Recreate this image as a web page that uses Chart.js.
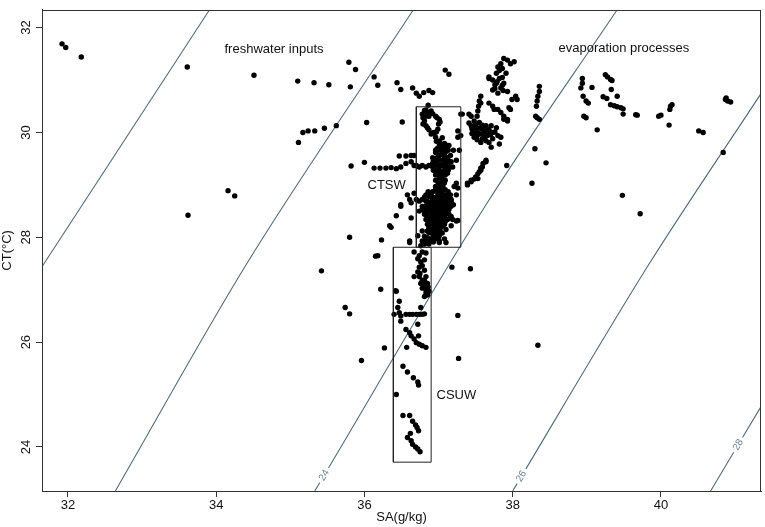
<!DOCTYPE html>
<html>
<head>
<meta charset="utf-8">
<script src="https://cdn.jsdelivr.net/npm/chart.js@4.4.0/dist/chart.umd.min.js"></script>
<style>
  html, body { margin: 0; padding: 0; background: #fff; }
</style>
</head>
<body>
<canvas id="tsChart" width="765" height="527"></canvas>
<script>
// axis ticks
const xTicks = [32, 34, 36, 38, 40];
const yTicks = [24, 26, 28, 30, 32];

const isoLevels = [20, 22, 24, 26, 28];
const isoSA = [
    [31.65, 33.91],
    [32.64, 34.41, 36.66],
    [35.33, 37.64, 39.41],
    [38.00, 39.84, 41.35],
    [40.67, 41.35]
];
const isoCT = [
    [27.44, 32.34],
    [23.16, 27.49, 32.34],
    [23.16, 28.62, 32.34],
    [23.16, 27.49, 30.74],
    [23.16, 24.77]
];
const isoLabels = ['24', '26', '28'];
const isoLabelCT = [23.46, 23.44, 24.04];

// water mass boxes
const boxNames = ['CTSW', 'CSUW'];
const boxSA = [[36.70, 37.30], [36.39, 36.90]];
const boxCT = [[27.81, 30.49], [23.71, 27.81]];

// text notes
const noteText = ['freshwater inputs', 'evaporation processes', 'CTSW', 'CSUW'];
const noteSA = [34.78, 39.50, 36.30, 37.24];
const noteCT = [31.59, 31.61, 28.99, 24.98];

// observations [SA, CT]
const scatteredPts = [
    [31.92,31.69],[31.97,31.62],[32.18,31.44],[33.61,31.25],[34.51,31.09],[34.16,28.89],[34.25,28.79],[33.62,28.42],
    [35.10,30.98],[35.32,30.95],[35.52,30.91],[35.79,31.34],[35.88,31.20],[35.81,30.87],[36.13,31.06],[36.18,30.90],[36.44,30.95],
    [36.03,30.19],[35.17,30.00],[35.24,30.03],[35.33,30.03],[35.46,30.08],[35.62,30.13],[35.11,29.81],
    [35.82,29.36],[36.00,29.43],[36.13,29.32],[36.21,29.32],[36.29,29.32],[36.36,29.33],[36.43,29.31],[36.49,29.34],[36.56,29.41],[36.63,29.44],[36.70,29.37],
    [36.47,29.55],[36.56,29.55],[36.63,29.56],[36.43,28.41],
    [36.49,30.82],[36.65,30.85],[36.70,30.75],[36.74,30.69],[36.80,30.76],[36.87,30.80],[36.92,30.76],[37.09,31.19],[37.14,31.11],[36.51,30.20],
    [36.58,28.81],[36.49,28.62],[36.34,28.22],[36.36,28.19],[35.80,28.00],[36.61,27.93],[36.61,28.72],[36.23,27.95],[36.15,27.64],[36.18,27.65],
    [35.42,27.36],[36.22,27.01],[36.42,26.98],[35.74,26.66],[35.80,26.54],[35.96,25.65],[36.27,25.89],[38.34,25.94]
];
const ctswPts = [
    [36.81,30.42],[36.85,30.38],[36.92,30.36],[36.96,30.31],[37.01,30.25],[37.00,30.16],[36.99,30.06],[36.94,30.00],[36.90,29.97],
    [36.83,30.31],[36.81,30.22],[36.83,30.13],[36.87,30.05],[36.78,30.35],[36.87,30.31],[36.86,30.52],
    [36.83,30.43],[36.90,30.41],[36.98,30.28],[37.02,30.20],[36.79,30.28],[36.79,30.16],[36.85,30.09],[36.92,29.99],[36.97,30.01],
    [36.96,29.91],[37.01,29.84],[37.03,29.78],[37.08,29.79],[37.12,29.75],[37.01,29.72],[36.99,29.66],[37.03,29.66],[37.05,29.59],
    [37.01,29.56],[36.96,29.50],[37.03,29.47],[37.08,29.50],[36.92,29.41],[36.87,29.37],[36.99,29.37],[37.05,29.37],[37.12,29.37],
    [37.17,29.44],[37.19,29.34],[36.96,29.28],[37.03,29.25],[37.08,29.28],[37.01,29.15],[37.05,29.12],[36.99,29.06],[37.05,29.03],
    [36.96,28.97],[37.03,28.94],[36.92,28.87],[36.99,28.84],[37.05,28.84],[36.87,28.78],[36.94,28.75],[37.01,28.75],[37.08,28.78],
    [37.12,28.72],[36.83,28.69],[36.90,28.66],[36.96,28.66],[37.03,28.66],[37.10,28.62],[37.17,28.69],[36.81,28.59],[36.87,28.56],
    [36.94,28.56],[37.01,28.56],[37.08,28.53],[37.14,28.53],[36.83,28.47],[36.90,28.47],[36.96,28.47],[37.03,28.44],[36.87,28.38],
    [36.94,28.38],[37.01,28.34],[37.08,28.38],[36.90,28.28],[36.96,28.25],[37.03,28.25],[36.92,28.15],[36.99,28.12],[36.87,28.09],
    [36.94,28.03],[37.01,28.03],[36.83,27.97],[36.90,27.93],[36.96,27.97],[36.81,27.87],[36.87,27.87],
    [36.67,29.56],[36.67,29.37],[36.74,29.34],[36.78,29.37],[36.83,29.34],[37.26,30.03],[37.26,29.91],[37.28,29.66],[37.24,29.47],
    [37.24,29.03],[37.26,28.94],[37.39,29.03],[37.44,29.09],[36.67,28.84],[36.70,28.72],[36.63,28.66],[36.74,28.69],[36.78,28.59],
    [36.74,28.50],[36.49,28.59],[36.63,28.37],[37.17,28.40],[37.24,28.31],[37.17,28.22],[37.10,28.15],[37.08,27.97],[36.78,28.12],
    [36.72,28.03],[36.61,27.90],[36.76,27.84],[37.01,27.90],[37.21,28.97],[37.24,28.81],[37.19,28.34],[37.26,28.32],[37.10,27.90]
];
const ctswCore = [
    [37.05,29.90],[36.97,29.83],[36.98,29.69],[37.04,29.69],[37.10,29.69],[36.96,29.62],[37.09,29.62],
    [36.92,29.52],[36.98,29.52],[37.12,29.52],[36.96,29.43],[37.09,29.43],[37.14,29.43],
    [36.92,29.34],[37.01,29.34],[37.10,29.34],[37.16,29.34],[36.99,29.22],[37.06,29.22],[37.12,29.22],
    [36.96,29.09],[37.02,29.09],[37.09,29.09],[37.00,29.00],[37.06,29.00],[36.96,28.91],[37.09,28.91],
    [36.83,28.81],[36.90,28.81],[37.02,28.81],[37.10,28.81],[37.16,28.81],
    [36.78,28.72],[36.92,28.72],[36.98,28.72],[37.05,28.72],[37.17,28.72],
    [36.85,28.62],[36.93,28.62],[37.00,28.62],[37.06,28.62],[37.13,28.62],[37.20,28.62],
    [36.78,28.53],[36.85,28.53],[36.92,28.53],[36.98,28.53],[37.05,28.53],[37.12,28.53],
    [36.81,28.44],[36.93,28.44],[37.00,28.44],[37.09,28.44],[37.14,28.44],
    [36.83,28.34],[36.90,28.34],[36.97,28.34],[37.05,28.34],[37.12,28.34],
    [36.85,28.25],[36.92,28.25],[37.00,28.25],[37.08,28.25],[36.87,28.17],[36.96,28.17],[37.02,28.17],
    [36.90,28.08],[36.97,28.08],[37.05,28.08],[36.85,27.99],[36.92,27.99],[37.00,27.99],[36.83,27.91],[36.93,27.91]
];
const ctswFill = [
    [37.01,29.75],[37.08,29.75],[37.14,29.75],[36.96,29.66],[37.06,29.66],[37.13,29.66],[37.20,29.66],
    [37.00,29.56],[37.08,29.56],[37.16,29.56],[36.93,29.47],[37.00,29.47],[37.06,29.47],[37.13,29.47],
    [36.94,29.37],[37.02,29.37],[37.09,29.37],[36.93,29.28],[37.01,29.28],[37.13,29.28],
    [36.96,29.19],[37.02,29.19],[37.09,29.19],[37.01,29.04],[37.08,29.04],[36.98,28.94],[37.06,28.94],
    [36.86,28.87],[37.02,28.87],[37.13,28.87],[36.81,28.77],[36.92,28.77],[36.98,28.77],[37.13,28.77],
    [36.86,28.68],[36.93,28.68],[37.00,28.68],[37.09,28.68],
    [36.82,28.59],[36.90,28.59],[36.97,28.59],[37.04,28.59],[37.10,28.59],[37.17,28.59],
    [36.81,28.49],[36.87,28.49],[36.94,28.49],[37.02,28.49],[37.09,28.49],
    [36.85,28.40],[36.92,28.40],[36.98,28.40],[37.06,28.40],[36.87,28.30],[36.94,28.30],[37.01,28.30],[37.09,28.30],
    [36.87,28.21],[36.96,28.21],[37.05,28.21],[36.85,28.12],[36.93,28.12],[37.02,28.12],
    [36.81,28.02],[36.98,28.02],[36.78,27.93],[36.86,27.93],[37.01,27.93]
];
const eastPts = [
    [37.32,30.35],[37.41,30.35],[37.44,30.31],[37.48,30.22],[37.55,30.19],[37.50,30.09],[37.59,30.06],[37.64,30.13],[37.53,30.00],
    [37.59,29.97],[37.66,29.94],[37.64,29.84],[37.44,30.13],[37.50,30.16],[37.57,30.09],[37.71,30.13],[37.78,30.09],[37.48,30.00],
    [37.55,29.97],[37.62,30.03],[37.68,30.06],[37.66,29.97],[37.73,30.00],[37.48,29.91],[37.59,29.88],[37.73,29.88],[37.57,29.81],
    [37.80,29.94],[37.84,29.91],[37.30,30.35],[37.71,29.72],[37.82,29.78],[37.30,29.94],
    [37.45,30.07],[37.52,30.09],[37.59,30.14],[37.66,30.05],[37.45,29.98],[37.52,29.94],[37.63,29.92],[37.70,29.96],[37.76,30.01],
    [37.52,29.86],[37.68,29.81],[37.41,30.18],
    [37.64,29.44],[37.59,29.34],[37.55,29.25],[37.50,29.15],[37.44,29.06],[37.39,29.00],[37.64,29.47],[37.57,29.28],[37.53,29.12],
    [37.60,29.41],[37.57,29.32],[37.53,29.21],[37.48,29.11],
    [37.57,30.69],[37.55,30.60],[37.54,30.50],[37.53,30.41],[37.52,30.31],[37.57,30.56],
    [37.68,31.06],[37.73,31.00],[37.78,30.94],[37.93,31.38],[37.97,31.31],[37.88,31.41],[38.02,31.35],[37.86,31.22],[37.80,31.25],
    [37.91,31.13],[37.82,31.03],[37.88,30.94],[37.78,31.13],[37.84,30.85],[37.76,30.91],[37.73,30.81],[37.93,30.78],[37.80,30.75],
    [37.84,31.31],[37.82,31.18],[37.86,31.05],[37.79,30.97],[37.86,30.90],[37.76,30.84],[37.87,30.80],
    [37.68,31.03],[38.04,30.69],[38.06,30.63],[37.99,30.63],[37.68,30.56],[37.73,30.50],[37.75,30.44],[37.80,30.44],[37.84,30.38],
    [37.88,30.31],[37.88,30.25],[37.93,30.25],[37.93,30.22],[37.95,30.47],[37.97,30.44],
    [38.36,30.88],[38.36,30.78],[38.34,30.69],[38.33,30.60],[38.32,30.50],[38.31,30.31],[38.36,30.25],[38.33,30.28],
    [38.30,29.69],[38.45,29.42],[37.92,29.37],[38.26,29.03],
    [38.94,31.03],[38.94,30.94],[38.92,30.85],[39.07,30.86],[38.95,30.69],[38.99,30.60],[39.02,30.56],[38.96,30.31],[38.99,30.28],
    [39.14,30.05],[39.25,31.10],[39.28,31.06],[39.32,31.01],[39.34,30.99],[39.33,30.82],[39.22,30.68],[39.27,30.65],[39.41,30.69],
    [39.32,30.53],[39.37,30.51],[39.41,30.49],[39.46,30.47],[39.49,30.45],[39.49,30.35],[39.66,30.34],[39.68,30.33],[39.97,30.31],
    [40.00,30.33],[40.11,30.14],[40.13,30.50],[40.15,30.53],[40.12,30.44],[40.51,30.03],[40.57,30.00],[40.84,29.62],
    [40.87,30.63],[40.90,30.60],[40.94,30.58],[40.88,30.66],[39.48,28.80],[39.72,28.45]
];
const csuwPts = [
    [36.67,27.72],[36.72,27.59],[36.78,27.72],[36.83,27.70],[36.76,27.53],[36.74,27.43],[36.81,27.37],[36.72,27.34],[36.67,27.25],
    [36.74,27.25],[36.78,27.18],[36.83,27.25],[36.76,27.12],[36.81,27.09],[36.85,27.12],[36.78,27.03],[36.83,27.00],[36.85,26.90],
    [36.81,26.87],[36.87,26.97],[36.74,27.65],[36.81,27.57],[36.78,27.46],[36.75,27.31],[36.81,27.18],[36.86,27.05],[36.83,26.94],
    [37.18,27.43],[37.43,27.40],[36.43,26.97],[36.47,26.78],[36.45,26.66],[36.76,26.66],[37.26,26.51],
    [36.40,26.53],[36.47,26.56],[36.49,26.50],[36.56,26.53],[36.61,26.53],[36.65,26.53],[36.70,26.53],[36.74,26.53],[36.78,26.53],
    [36.81,26.54],[36.49,26.40],[36.72,26.34],
    [36.56,26.24],[36.61,26.18],[36.63,26.12],[36.67,26.06],[36.70,25.99],[36.74,25.96],[36.78,25.93],[36.83,25.90],[36.73,26.12],
    [36.57,25.90],[37.27,25.69],[36.52,25.54],[36.58,25.43],[36.66,25.32],[36.72,25.24],[36.73,25.18],[36.43,25.00],
    [36.52,24.60],[36.61,24.60],[36.65,24.49],[36.69,24.42],[36.71,24.37],[36.73,24.31],[36.62,24.26],[36.58,24.18],
    [36.63,24.12],[36.65,24.05],[36.69,24.00],[36.72,23.96],[36.75,23.91]
];

const FONT = "'Liberation Sans', Arial, Helvetica, sans-serif";
Chart.defaults.font.family = FONT;
Chart.defaults.color = '#111';

const toXY = list => list.map(p => ({ x: p[0], y: p[1] }));

let datasets = [];

// isopycnal lines, drawn underneath
isoSA.forEach((sa, i) => {
    datasets.push({
        label: 'sigma ' + isoLevels[i],
        data: sa.map((v, j) => ({ x: v, y: isoCT[i][j] })),
        showLine: true,
        cubicInterpolationMode: 'monotone',
        borderColor: '#4d6d83',
        borderWidth: 1.1,
        pointRadius: 0,
        fill: false,
        order: 3
    });
});

[scatteredPts, ctswPts, ctswCore, ctswFill, eastPts, csuwPts].forEach(list => {
    datasets.push({
        data: toXY(list),
        pointRadius: 2.7,
        pointBackgroundColor: '#000',
        pointBorderWidth: 0,
        order: 2
    });
});

boxNames.forEach((name, i) => {
    const [s0, s1] = boxSA[i];
    const [c0, c1] = boxCT[i];
    datasets.push({
        label: name,
        data: [{ x: s0, y: c0 }, { x: s1, y: c0 }, { x: s1, y: c1 }, { x: s0, y: c1 }, { x: s0, y: c0 }],
        showLine: true,
        borderColor: '#222',
        borderWidth: 1,
        pointRadius: 0,
        fill: false,
        order: 1
    });
});

// labels on isopycnals, notes and the box frame
const overlay = {
    id: 'overlay',
    afterDatasetsDraw(chart) {
        const { ctx, chartArea: a, scales: { x, y } } = chart;
        ctx.save();

        ctx.font = '10px ' + FONT;
        isoLabels.forEach((lab, k) => {
            const i = isoLevels.indexOf(Number(lab));
            const sa = isoSA[i], ct = isoCT[i];
            const c = isoLabelCT[k];
            for (let j = 0; j < sa.length - 1; j++) {
                if (c < ct[j] || c > ct[j + 1]) continue;
                const t = (c - ct[j]) / (ct[j + 1] - ct[j]);
                const px = x.getPixelForValue(sa[j] + t * (sa[j + 1] - sa[j]));
                const py = y.getPixelForValue(c);
                const ang = Math.atan2(y.getPixelForValue(ct[j + 1]) - y.getPixelForValue(ct[j]),
                                       x.getPixelForValue(sa[j + 1]) - x.getPixelForValue(sa[j]));
                const w = ctx.measureText(lab).width;
                ctx.save();
                ctx.translate(px, py);
                ctx.rotate(ang);
                ctx.fillStyle = '#fff';
                ctx.fillRect(-w / 2 - 3, -4, w + 6, 8);
                ctx.fillStyle = '#6e8798';
                ctx.textAlign = 'center';
                ctx.textBaseline = 'middle';
                ctx.fillText(lab, 0, 0);
                ctx.restore();
                break;
            }
        });

        ctx.font = '13px ' + FONT;
        ctx.fillStyle = '#111';
        ctx.textAlign = 'center';
        ctx.textBaseline = 'middle';
        noteText.forEach((txt, i) => {
            ctx.fillText(txt, x.getPixelForValue(noteSA[i]), y.getPixelForValue(noteCT[i]));
        });

        ctx.strokeStyle = '#333';
        ctx.lineWidth = 1;
        ctx.strokeRect(Math.round(a.left) + 0.5, Math.round(a.top) + 0.5,
                       Math.round(a.right) - Math.round(a.left) - 1, Math.round(a.bottom) - Math.round(a.top));
        ctx.restore();
    }
};

const axisCommon = {
    type: 'linear',
    grid: { drawOnChartArea: false, drawTicks: true, tickLength: 6, color: '#333', tickWidth: 1 },
    border: { color: '#333', width: 1 },
};

new Chart(document.getElementById('tsChart'), {
    type: 'scatter',
    data: { datasets: datasets },
    options: {
        responsive: false,
        animation: false,
        layout: { padding: { left: 0, right: 2, top: 2, bottom: 0 } },
        plugins: { legend: { display: false }, tooltip: { enabled: false } },
        scales: {
            x: {
                ...axisCommon,
                min: 31.65,
                max: 41.35,
                afterFit: s => { s.height = 36; },
                afterBuildTicks: s => { s.ticks = xTicks.map(v => ({ value: v })); },
                ticks: { font: { size: 13 }, color: '#111', padding: 1, maxRotation: 0, autoSkip: false,
                         callback: v => String(v) },
                title: { display: true, text: 'SA(g/kg)', font: { size: 13 }, color: '#111',
                         padding: { top: 0, bottom: 2 } }
            },
            y: {
                ...axisCommon,
                min: 23.16,
                max: 32.34,
                afterFit: s => { s.width = 42; },
                afterBuildTicks: s => { s.ticks = yTicks.map(v => ({ value: v })); },
                ticks: { font: { size: 13 }, color: '#111', padding: 2, minRotation: 90, maxRotation: 90,
                         crossAlign: 'center', autoSkip: false, callback: v => String(v) },
                title: { display: true, text: 'CT(°C)', font: { size: 13 }, color: '#111',
                         padding: { top: 0, bottom: 0 } }
            }
        }
    },
    plugins: [overlay]
});
</script>
</body>
</html>
